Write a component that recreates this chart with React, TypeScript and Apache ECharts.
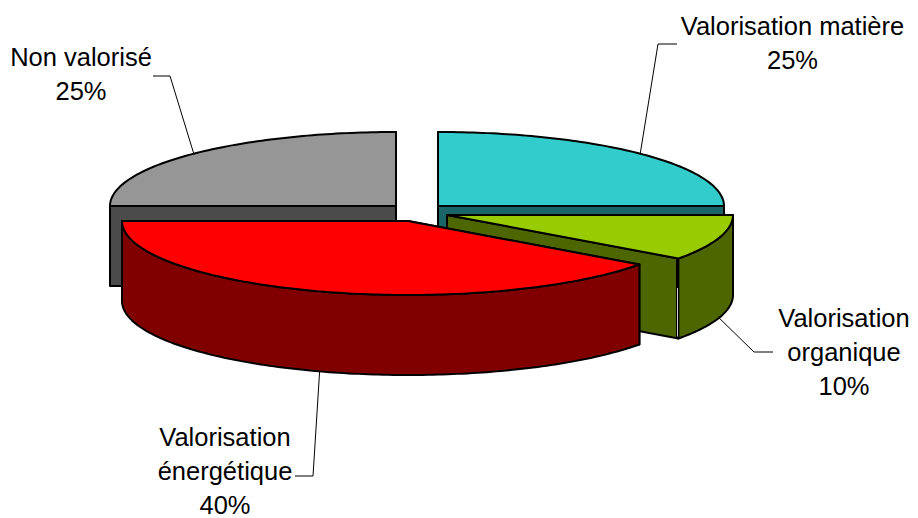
import React, { useEffect, useRef } from "react";
import * as echarts from "echarts";

// Data, clockwise from 12 o'clock
const categories = ["Valorisation matière", "Valorisation organique", "Valorisation énergétique", "Non valorisé"];
const values = [25, 10, 40, 25];
const labelLines = [["Valorisation matière"], ["Valorisation", "organique"], ["Valorisation", "énergétique"], ["Non valorisé"]];

// Styling and layout
const topColors = ["#33CCCC", "#99CC00", "#FF0000", "#969696"];
const wallColors = ["#1A6666", "#4D6600", "#800000", "#4B4B4B"];
const centers = [[438, 206], [447, 215], [408, 221], [396, 206]];
const labelAnchors = [[792.5, 26], [844, 318], [225, 437], [81, 57]];
const leaderElbows = [[[658, 44], [677, 44]], [[754, 352], [773, 352]], [[313, 476], [295, 476]], [[170, 76], [153, 76]]];
const leaderOnWall = [false, true, true, false];
const seamOnEnd = [false, true, false, false];
const paintOrder = [0, 3, 1, 2];
const RX = 286, RY = 74, DEPTH = 80, LINE_H = 34;
const FONT_SIZE = 25.5;
const FONT = '"Liberation Sans", Arial, sans-serif';

const total = values.reduce((a, b) => a + b, 0);
const starts: number[] = [];
values.reduce((acc, v, i) => { starts[i] = acc; return acc + (v / total) * 360; }, 0);

function rim(c: number[], deg: number, dy = 0): number[] {
  const r = (deg * Math.PI) / 180;
  return [c[0] + RX * Math.sin(r), c[1] - RY * Math.cos(r) + dy];
}
function arc(c: number[], a: number, b: number, dy = 0): number[][] {
  const pts: number[][] = [];
  const n = Math.max(2, Math.ceil(Math.abs(b - a)));
  for (let i = 0; i <= n; i++) pts.push(rim(c, a + ((b - a) * i) / n, dy));
  return pts;
}

function renderSlice(params: any) {
  const i = paintOrder[params.dataIndex];
  const c = centers[i];
  const a = starts[i];
  const b = a + (values[i] / total) * 360;
  const mid = (a + b) / 2;
  const down = (p: number[]) => [p[0], p[1] + DEPTH];
  const edge = { stroke: "#000", lineWidth: 2, lineJoin: "round" };
  const children: any[] = [];
  const poly = (points: number[][], fill: string) =>
    children.push({ type: "polygon", shape: { points }, style: { ...edge, fill }, silent: true });
  const segment = (x: number, y1: number, y2: number, stroke: string, lineWidth: number) =>
    children.push({ type: "line", shape: { x1: x, y1, x2: x, y2 }, style: { stroke, lineWidth }, silent: true });

  // straight cut faces
  [a, b].forEach((d) => {
    const p = rim(c, d);
    poly([c, p, down(p), down(c)], wallColors[i]);
  });
  // outer wall, only the part that faces the viewer
  const wa = Math.max(a, 90), wb = Math.min(b, 270);
  if (wb > wa) {
    const top = arc(c, wa, wb);
    poly([...top, ...top.slice().reverse().map(down)], wallColors[i]);
  }
  // top face
  poly([c, ...arc(c, a, b)], topColors[i]);

  // hairline seam between the cut face and the outer wall
  if (seamOnEnd[i]) {
    const p = rim(c, b);
    const x = Math.floor(p[0]) - 0.5;
    segment(x, p[1], p[1] + DEPTH, "#000", 3);
    segment(x, p[1] + DEPTH * 0.37, p[1] + DEPTH - 2, "#d0d0d0", 1);
  }

  // leader
  const start = rim(c, mid, leaderOnWall[i] ? DEPTH : 0);
  children.push({
    type: "polyline",
    shape: { points: [start, ...leaderElbows[i]] },
    style: { stroke: "#000", lineWidth: 1, fill: "none" },
    silent: true,
  });

  // label
  const lines = [...labelLines[i], `${values[i]}%`];
  lines.forEach((t, k) => {
    children.push({
      type: "text",
      style: {
        text: t,
        x: labelAnchors[i][0],
        y: labelAnchors[i][1] + k * LINE_H,
        fill: "#000",
        fontSize: FONT_SIZE,
        fontFamily: FONT,
        textAlign: "center",
        textVerticalAlign: "middle",
      },
      silent: true,
    });
  });
  return { type: "group", children };
}

export default function App() {
  const ref = useRef<HTMLDivElement>(null);
  useEffect(() => {
    const chart = echarts.init(ref.current!, null, { renderer: "svg" });
    chart.setOption({
      animation: false,
      backgroundColor: "#fff",
      series: [
        {
          type: "custom",
          coordinateSystem: "none",
          silent: true,
          renderItem: renderSlice,
          data: paintOrder.map((i) => ({ name: categories[i], value: values[i] })),
        },
      ],
    });
    return () => chart.dispose();
  }, []);
  return <div ref={ref} style={{ position: "absolute", left: 0, top: 0, width: 918, height: 518 }} />;
}
